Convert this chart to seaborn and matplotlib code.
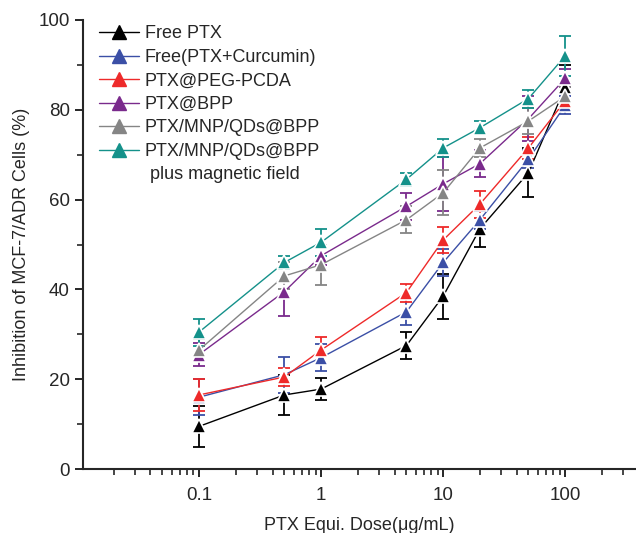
import matplotlib
matplotlib.use('Agg')
import matplotlib.pyplot as plt
import pandas as pd
import seaborn as sns
from matplotlib.lines import Line2D
from matplotlib.ticker import MultipleLocator, LogLocator, NullFormatter, FixedLocator, FixedFormatter

# doses (ug/mL)
doses = [0.1, 0.5, 1, 5, 10, 20, 50, 100]

groups = ['Free PTX', 'Free(PTX+Curcumin)', 'PTX@PEG-PCDA', 'PTX@BPP',
          'PTX/MNP/QDs@BPP', 'PTX/MNP/QDs@BPP ']
extra_label = ' plus magnetic field'

free_ptx = [9.5, 16.5, 17.8, 27.5, 38.5, 53.5, 66.0, 85.0]
free_ptx_sd = [4.5, 4.5, 2.5, 3.0, 5.0, 4.0, 5.5, 5.0]
free_cur = [16.0, 21.0, 24.8, 35.0, 46.0, 55.5, 69.0, 81.0]
free_cur_sd = [4.0, 4.0, 3.0, 3.0, 3.0, 2.0, 2.0, 2.0]
peg_pcda = [16.5, 20.5, 26.5, 39.3, 51.0, 59.0, 71.5, 82.0]
peg_pcda_sd = [3.5, 2.0, 3.0, 2.0, 3.0, 3.0, 2.5, 2.0]
bpp = [25.5, 39.5, 47.5, 58.5, 63.5, 68.0, 78.0, 87.0]
bpp_sd = [2.5, 5.5, 2.0, 3.0, 6.0, 3.0, 5.0, 2.0]
mnp = [26.5, 43.0, 45.5, 55.5, 61.5, 71.5, 77.5, 83.0]
mnp_sd = [2.5, 3.0, 4.5, 3.0, 5.0, 2.0, 3.0, 2.0]
mnp_mag = [30.5, 46.0, 50.5, 64.5, 71.5, 76.0, 82.5, 92.0]
mnp_mag_sd = [3.0, 1.5, 3.0, 1.5, 2.0, 1.5, 2.0, 4.5]

colors = ['#000000', '#3B4FA6', '#EE2A2A', '#7A2A8C', '#858585', '#14918A']

means = [free_ptx, free_cur, peg_pcda, bpp, mnp, mnp_mag]
sds = [free_ptx_sd, free_cur_sd, peg_pcda_sd, bpp_sd, mnp_sd, mnp_mag_sd]

rows = []
for g, m, s in zip(groups, means, sds):
    for d, v, e in zip(doses, m, s):
        rows.append({'dose': d, 'value': v, 'sd': e, 'group': g})
df = pd.DataFrame(rows)

sns.set_style('ticks')
plt.rcParams['font.family'] = ['Liberation Sans', 'DejaVu Sans']

fig = plt.figure(figsize=(6.36, 5.33), dpi=100)
ax = fig.add_axes([0.1305, 0.12, 0.8695, 0.8425])

# error bars first, so markers sit on top
for g, c in zip(groups, colors):
    sub = df[df.group == g]
    ax.errorbar(sub.dose, sub.value, yerr=sub.sd, fmt='none', ecolor=c,
                elinewidth=1.3, capsize=4, capthick=1.3, zorder=2)

sns.lineplot(data=df, x='dose', y='value', hue='group', hue_order=groups,
             palette=colors, marker='^', markersize=10.5, markeredgecolor='white',
             markeredgewidth=1.2, linewidth=1.0, dashes=False, ax=ax, zorder=3,
             legend=False)

ax.set_xscale('log')
ax.set_xlim(0.0112, 380)
ax.set_ylim(0, 100)

ax.xaxis.set_major_locator(FixedLocator([0.1, 1, 10, 100]))
ax.xaxis.set_major_formatter(FixedFormatter(['0.1', '1', '10', '100']))
ax.xaxis.set_minor_locator(LogLocator(base=10, subs=range(2, 10), numticks=20))
ax.xaxis.set_minor_formatter(NullFormatter())
ax.yaxis.set_major_locator(MultipleLocator(20))
ax.yaxis.set_minor_locator(MultipleLocator(10))

ax.tick_params(which='major', length=6, width=1.4, labelsize=13.5, direction='out')
ax.tick_params(axis='x', which='major', pad=7)
ax.tick_params(which='minor', length=4, width=1.2, direction='out')
for sp in ['left', 'bottom']:
    ax.spines[sp].set_linewidth(1.5)
sns.despine(ax=ax)

ax.set_xlabel('PTX Equi. Dose(\u03bcg/mL)', fontsize=13, labelpad=9)
ax.set_ylabel('Inhibition of MCF-7/ADR Cells (%)', fontsize=13, labelpad=6)

handles = [Line2D([], [], color=c, marker='^', markersize=10, linewidth=1.0)
           for c in colors]
handles.append(Line2D([], [], linestyle='none'))
labels = groups[:5] + ['PTX/MNP/QDs@BPP', extra_label]
ax.legend(handles, labels, loc='upper left', bbox_to_anchor=(0.01, 1.012),
          frameon=False, fontsize=13, handlelength=2.2, handletextpad=0.3,
          labelspacing=0.36, borderaxespad=0.2)

fig.savefig('out.png', dpi=100)
